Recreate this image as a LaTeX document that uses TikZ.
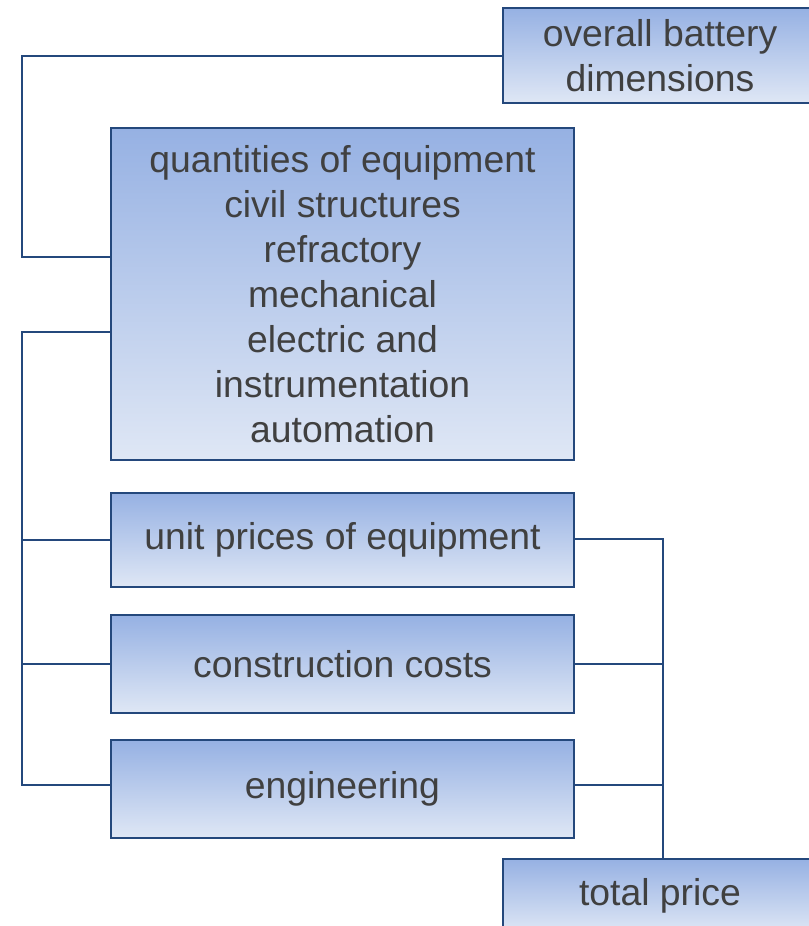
\documentclass[tikz,border=0pt]{standalone}
\usepackage{fontspec}
\setmainfont{Liberation Sans}
\usepackage{tikz}
\usetikzlibrary{positioning}
\definecolor{boxtop}{RGB}{150,177,227}
\definecolor{boxbot}{RGB}{223,231,245}
\definecolor{edge}{RGB}{36,72,124}
\definecolor{ink}{RGB}{64,64,64}

\begin{document}
\begin{tikzpicture}[x=0.75pt,y=-0.75pt,
  box/.style={rectangle,draw=edge,line width=1.5pt,top color=boxtop,bottom color=boxbot,
              text=ink,align=center,inner sep=0pt,font=\fontsize{28}{33.75}\selectfont},
  wide/.style={box,minimum width=347pt},
  side/.style={box,minimum width=235.5pt},
  link/.style={draw=edge,line width=1.5pt}
]
  \useasboundingbox (0,0) rectangle (809,926);
  % inputs on the right
  \node[side,minimum height=71pt] (dims)  at (660,55.5) {overall battery\\dimensions};
  \node[side,minimum height=55.5pt] (total) at (660,896)  {total price};
  % middle column
  \node[wide,minimum height=249pt] (qty) at (342.5,294)
    {quantities of equipment\\civil structures\\refractory\\mechanical\\electric and\\instrumentation\\automation};
  \node[wide,minimum height=71pt] (unit)   at (342.5,540) {unit prices of equipment};
  \node[wide,minimum height=73pt] (constr) at (342.5,664)   {construction costs};
  \node[wide,minimum height=73pt] (eng)    at (342.5,789)   {engineering};
  % left buses
  \coordinate (busA) at (22,257);
  \coordinate (busB) at (22,332);
  \coordinate (engL) at ([yshift=3pt]eng.west);
  \draw[link] (dims.west) -| (busA) -- (busA -| qty.west);
  \draw[link] (busB -| qty.west) -- (busB) |- (engL);
  \draw[link] (busB |- unit.west) -- (unit.west);
  \draw[link] (busB |- constr.west) -- (constr.west);
  % right bus to total
  \coordinate (busC) at (663,539);
  \draw[link] (unit.east |- busC) -- (busC) -- (busC |- total.north);
  \draw[link] (constr.east) -- (constr.east -| busC);
  \draw[link] ([yshift=3pt]eng.east) -- ([yshift=3pt]eng.east -| busC);
\end{tikzpicture}
\end{document}
